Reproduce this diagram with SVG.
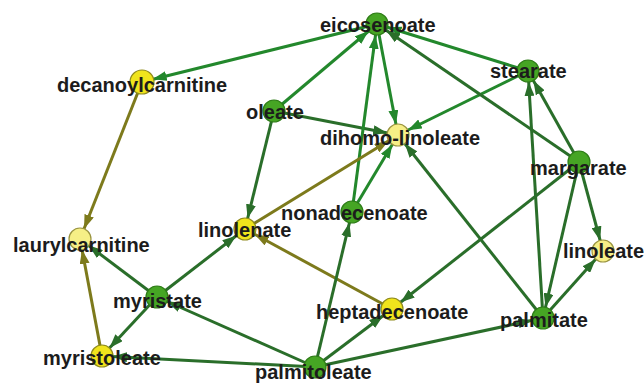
<svg xmlns="http://www.w3.org/2000/svg" width="644" height="384" viewBox="0 0 644 384">
<defs>
<marker id="ag" markerUnits="userSpaceOnUse" markerWidth="14" markerHeight="10" refX="25" refY="5" orient="auto"><path d="M0,0 L14,5 L0,10 z" fill="#2a6e2a"/></marker>
<marker id="ab" markerUnits="userSpaceOnUse" markerWidth="14" markerHeight="10" refX="25" refY="5" orient="auto"><path d="M0,0 L14,5 L0,10 z" fill="#23882c"/></marker>
<marker id="ao" markerUnits="userSpaceOnUse" markerWidth="14" markerHeight="10" refX="25" refY="5" orient="auto"><path d="M0,0 L14,5 L0,10 z" fill="#7d7a1c"/></marker>
</defs>
<style>
.e{fill:none;stroke-width:3}
.g{stroke:#2a6e2a;marker-end:url(#ag)}
.b{stroke:#23882c;marker-end:url(#ab)}
.o{stroke:#7d7a1c;marker-end:url(#ao)}
.ng{fill:#46a524;stroke:#2f7d18;stroke-width:1.2}
.ny{fill:#f0e41c;stroke:#8f8a1e;stroke-width:1.2}
.nl{fill:#f6ef86;stroke:#9a9440;stroke-width:1.2}
text{font-family:"Liberation Sans",Arial,sans-serif;font-weight:bold;font-size:20px;fill:#1c1c1c}
</style>
<rect width="644" height="384" fill="#ffffff"/>
<g id="connectors">
<line class="e b" x1="377" y1="24" x2="142" y2="82"/>
<line class="e o" x1="142" y1="82" x2="80" y2="239"/>
<line class="e b" x1="274" y1="111" x2="377" y2="24"/>
<line class="e g" x1="274" y1="111" x2="398" y2="135"/>
<line class="e g" x1="274" y1="111" x2="245" y2="229"/>
<line class="e b" x1="377" y1="24" x2="398" y2="135"/>
<line class="e b" x1="528" y1="71" x2="377" y2="24"/>
<line class="e b" x1="528" y1="71" x2="398" y2="135"/>
<line class="e g" x1="579" y1="162" x2="377" y2="24"/>
<line class="e b" x1="352" y1="212" x2="377" y2="24"/>
<line class="e b" x1="352" y1="212" x2="398" y2="135"/>
<line class="e g" x1="543" y1="318" x2="398" y2="135"/>
<line class="e o" x1="245" y1="229" x2="398" y2="135"/>
<line class="e o" x1="392" y1="309" x2="245" y2="229"/>
<line class="e g" x1="157" y1="297" x2="245" y2="229"/>
<line class="e g" x1="157" y1="297" x2="80" y2="239"/>
<line class="e g" x1="157" y1="297" x2="102" y2="356"/>
<line class="e o" x1="102" y1="356" x2="80" y2="239"/>
<line class="e g" x1="315" y1="367" x2="102" y2="356"/>
<line class="e g" x1="315" y1="367" x2="157" y2="297"/>
<line class="e g" x1="315" y1="367" x2="352" y2="212"/>
<line class="e g" x1="315" y1="367" x2="392" y2="309"/>
<line class="e g" x1="315" y1="367" x2="543" y2="318"/>
<line class="e g" x1="579" y1="162" x2="392" y2="309"/>
<line class="e g" x1="543" y1="318" x2="528" y2="71"/>
<line class="e g" x1="579" y1="162" x2="528" y2="71"/>
<line class="e g" x1="579" y1="162" x2="543" y2="318"/>
<line class="e g" x1="579" y1="162" x2="603" y2="251"/>
<line class="e g" x1="543" y1="318" x2="603" y2="251"/>
</g>
<g id="eicosenoate"><circle class="ng" cx="377" cy="24" r="11"/><text x="320" y="32">eicosenoate</text></g>
<g id="decanoylcarnitine"><circle class="ny" cx="142" cy="82" r="12"/><text x="57" y="92">decanoylcarnitine</text></g>
<g id="oleate"><circle class="ng" cx="274" cy="111" r="11"/><text x="246" y="119">oleate</text></g>
<g id="stearate"><circle class="ng" cx="528" cy="71" r="11"/><text x="490" y="78">stearate</text></g>
<g id="dihomo-linoleate"><circle class="nl" cx="398" cy="135" r="11"/><text x="320" y="145">dihomo-linoleate</text></g>
<g id="margarate"><circle class="ng" cx="579" cy="162" r="11"/><text x="530" y="175">margarate</text></g>
<g id="laurylcarnitine"><circle class="nl" cx="80" cy="239" r="11"/><text x="13" y="252">laurylcarnitine</text></g>
<g id="linolenate"><circle class="ny" cx="245" cy="229" r="11"/><text x="198" y="237">linolenate</text></g>
<g id="nonadecenoate"><circle class="ng" cx="352" cy="212" r="11"/><text x="281" y="220">nonadecenoate</text></g>
<g id="myristate"><circle class="ng" cx="157" cy="297" r="11"/><text x="113" y="308">myristate</text></g>
<g id="linoleate"><circle class="nl" cx="603" cy="251" r="11"/><text x="563" y="258">linoleate</text></g>
<g id="heptadecenoate"><circle class="ny" cx="392" cy="309" r="11"/><text x="316" y="319">heptadecenoate</text></g>
<g id="palmitate"><circle class="ng" cx="543" cy="318" r="11"/><text x="500" y="327">palmitate</text></g>
<g id="myristoleate"><circle class="ny" cx="102" cy="356" r="11"/><text x="43" y="365">myristoleate</text></g>
<g id="palmitoleate"><circle class="ng" cx="315" cy="367" r="11"/><text x="255" y="379">palmitoleate</text></g>
</svg>
